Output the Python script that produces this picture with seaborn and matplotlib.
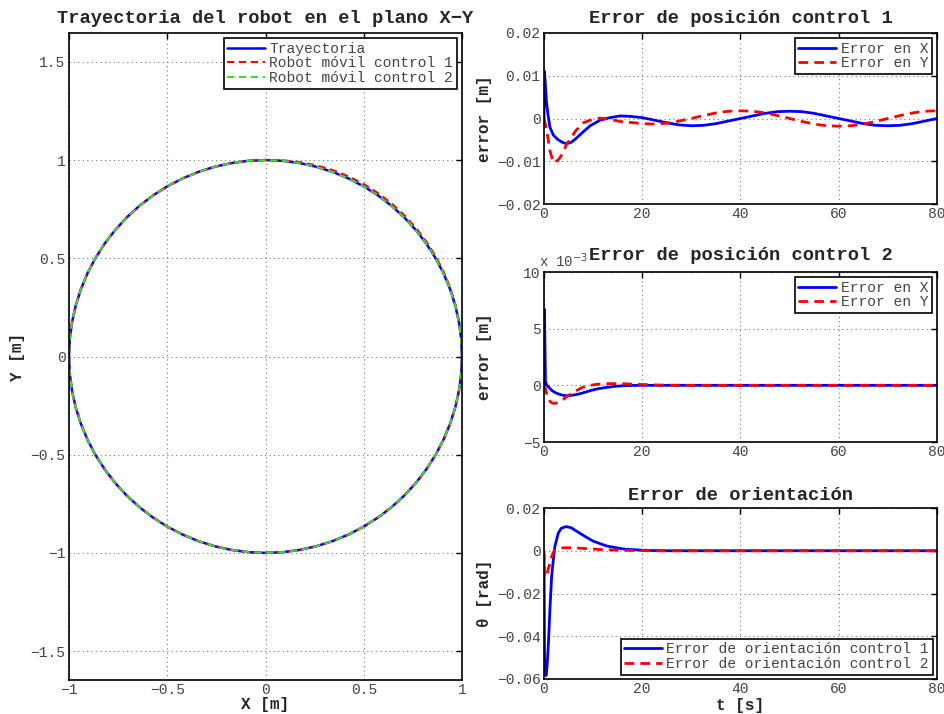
import numpy as np
import pandas as pd
import matplotlib
matplotlib.use("Agg")
import matplotlib.pyplot as plt
from matplotlib.ticker import FuncFormatter
import seaborn as sns

# ---------------- data ----------------
# X-Y plane: sampled angles (deg) and radii of each trajectory
theta_deg = list(range(0, 361, 5))
r_ref = [1.0] * 73
r_ctrl1 = [1.0] * 3 + [1.002, 1.003, 1.004, 1.005, 1.006, 1.007, 1.008, 1.009,
                       1.010, 1.010, 1.010, 1.009, 1.007, 1.005, 1.003, 1.001] + [1.0] * 54
r_ctrl2 = [1.0] * 73

# position error, control 1 [m]
t_pos1 = [0, 0.1, 0.25, 0.5, 0.8, 1.2, 1.9, 2.9, 3.8, 4.6,
          5.5, 6.5, 8, 9.4, 11.4, 13.4, 15.5, 17.5,
          20, 22.5, 25, 27.5, 30, 32.5, 35, 37.5, 40, 42.5, 45, 47.5, 50,
          52.5, 55, 57.5, 60, 62.5, 65, 67.5, 70, 72.5, 75, 77.5, 80]
ex1 = [0, 0.011, 0.0085, 0.004, 0.001, -0.002, -0.0039, -0.005, -0.0056, -0.0059,
       -0.0056, -0.0047, -0.0031, -0.0017, -0.0004, 0.0002, 0.0006, 0.0005,
       0.0002, -0.0004, -0.0010, -0.0015, -0.0017, -0.0016, -0.0012, -0.0006, 0.0,
       0.0006, 0.0012, 0.0016, 0.0017, 0.0016, 0.0012, 0.0006, 0.0, -0.0006,
       -0.0012, -0.0016, -0.0017, -0.0016, -0.0012, -0.0006, 0.0]
ey1 = [0, -0.0005, -0.0012, -0.0025, -0.0045, -0.0075, -0.0103, -0.0097, -0.0082, -0.0060,
       -0.0045, -0.0028, -0.0010, -0.0004, 0.0001, -0.0002, -0.0007, -0.0009,
       -0.0012, -0.0013, -0.0011, -0.0006, 0.0, 0.0007, 0.0013, 0.0017, 0.0018,
       0.0017, 0.0013, 0.0007, 0.0, -0.0007, -0.0013, -0.0017, -0.0018, -0.0017,
       -0.0013, -0.0007, 0.0, 0.0007, 0.0013, 0.0017, 0.0018]

# position error, control 2 [x 10^-3 m]
t_pos2 = [0, 0.1, 0.3, 0.6, 1.2, 1.6, 2.2, 2.6, 3.2, 3.9,
          4.6, 5.3, 6.5, 7.3, 8, 9.4, 11, 12.8, 14.5, 16.2,
          18, 19.6, 22, 25, 30, 40, 50, 60, 70, 80]
ex2_milli = [0, 6.7, 0.3, 0.0, -0.27, -0.45, -0.62, -0.7, -0.8, -0.88,
             -0.92, -0.9, -0.82, -0.74, -0.66, -0.47, -0.3, -0.18, -0.09, -0.03,
             -0.01, 0, 0, 0, 0, 0, 0, 0, 0, 0]
ey2_milli = [0, -0.1, -0.3, -0.85, -1.4, -1.55, -1.6, -1.55, -1.45, -1.25,
             -1.0, -0.8, -0.5, -0.3, -0.15, 0.0, 0.1, 0.15, 0.15, 0.14,
             0.1, 0.08, 0.04, 0.01, 0, 0, 0, 0, 0, 0]

# orientation error [rad]
t_ori = [0, 0.1, 0.4, 0.6, 0.9, 1.2, 1.55, 1.9, 2.2, 2.9,
         3.5, 4.5, 5.5, 7.3, 8.5, 10, 12.8, 16.2, 19.6, 22,
         25, 30, 40, 50, 60, 70, 80]
eo1 = [-0.002, -0.05, -0.0584, -0.055, -0.0433, -0.0277, -0.0121, -0.0043, 0.0019, 0.0082,
       0.0105, 0.0113, 0.0108, 0.0082, 0.0065, 0.0045, 0.0022, 0.0008, 0.0003, 0.0001,
       0, 0, 0, 0, 0, 0, 0]
eo2 = [0, -0.012, -0.0125, -0.011, -0.0082, -0.0060, -0.0028, -0.0008, 0.0003, 0.0010,
       0.0013, 0.0014, 0.0014, 0.0012, 0.0010, 0.0008, 0.0004, 0.0002, 0.0001, 0,
       0, 0, 0, 0, 0, 0, 0]

# ---------------- style ----------------
sns.set_style("white")
plt.rcParams["font.family"] = ["Liberation Mono", "DejaVu Sans Mono"]
plt.rcParams["axes.unicode_minus"] = True

BLUE = "#0000ff"
RED = "#ff0000"
GREEN = "#3cd83c"
TICKC = "#444444"
DASH = (3.5, 2.2)


def fmt(v, pos):
    s = "%g" % v
    if s in ("-0", "0"):
        return "0"
    return s.replace("-", "\u2212")


def style_axes(ax):
    for s in ax.spines.values():
        s.set_visible(True)
        s.set_linewidth(1.2)
        s.set_color("black")
    ax.tick_params(direction="in", length=4, width=1, top=True, right=True,
                   labelsize=10.5, labelcolor=TICKC, color="black")
    ax.tick_params(axis="x", pad=2.5)
    ax.tick_params(axis="y", pad=2.5)
    ax.grid(True, linestyle=(0, (1, 3)), color="#777777", linewidth=0.8)
    ax.xaxis.set_major_formatter(FuncFormatter(fmt))
    ax.yaxis.set_major_formatter(FuncFormatter(fmt))


def style_legend(leg):
    leg.get_frame().set_linewidth(1.2)
    for t in leg.get_texts():
        t.set_color(TICKC)


def add_legend(ax, loc="upper right"):
    leg = ax.legend(loc=loc, fontsize=10.5, frameon=True, fancybox=False,
                    edgecolor="black", framealpha=1, borderpad=0.25, labelspacing=0.05,
                    handlelength=2.6, handletextpad=0.3, borderaxespad=0.35)
    style_legend(leg)
    return leg


def draw(ax, x, y, color, label, dashed=False, lw=2.0, sort=True):
    sns.lineplot(x=x, y=y, ax=ax, color=color, label=label, linewidth=lw,
                 sort=sort, estimator=None, errorbar=None)
    line = ax.lines[-1]
    if dashed:
        line.set_linestyle("--")
        line.set_dashes(DASH)
    return line


W, H = 945, 714
fig = plt.figure(figsize=(W / 100, H / 100), dpi=100)

def rect(left, top, right, bottom):
    return [left / W, 1 - bottom / H, (right - left) / W, (bottom - top) / H]

ax_xy = fig.add_axes(rect(69, 33, 462, 680))
ax_p1 = fig.add_axes(rect(544, 33, 937, 204))
ax_p2 = fig.add_axes(rect(544, 272, 937, 442))
ax_o = fig.add_axes(rect(544, 508, 937, 679))

# ---------------- X-Y plane ----------------
th = np.deg2rad(np.array(theta_deg, dtype=float))
for r, col, lab, dashed, lw in [(r_ref, BLUE, "Trayectoria", False, 1.8),
                                (r_ctrl1, RED, "Robot móvil control 1", True, 1.5),
                                (r_ctrl2, GREEN, "Robot móvil control 2", True, 1.5)]:
    r = np.array(r)
    draw(ax_xy, r * np.cos(th), r * np.sin(th), col, lab, dashed=dashed, lw=lw, sort=False)

ax_xy.set_xlim(-1, 1)
ax_xy.set_ylim(-1.647, 1.647)
ax_xy.set_xticks([-1, -0.5, 0, 0.5, 1])
ax_xy.set_yticks([-1.5, -1, -0.5, 0, 0.5, 1, 1.5])
style_axes(ax_xy)
ax_xy.set_title("Trayectoria del robot en el plano X\u2212Y", fontsize=13.5,
                fontweight="bold", pad=7)
ax_xy.set_xlabel("X [m]", fontsize=11.5, fontweight="bold")
ax_xy.set_ylabel("Y [m]", fontsize=11.5, fontweight="bold")
ax_xy.xaxis.set_label_coords(0.5, -0.027)
ax_xy.yaxis.set_label_coords(-0.112, 0.5)
add_legend(ax_xy)

# ---------------- position error control 1 ----------------
draw(ax_p1, t_pos1, ex1, BLUE, "Error en X")
draw(ax_p1, t_pos1, ey1, RED, "Error en Y", dashed=True)
ax_p1.set_xlim(0, 80)
ax_p1.set_ylim(-0.02, 0.02)
ax_p1.set_xticks([0, 20, 40, 60, 80])
ax_p1.set_yticks([-0.02, -0.01, 0, 0.01, 0.02])
style_axes(ax_p1)
ax_p1.set_title("Error de posición control 1", fontsize=13.5, fontweight="bold", pad=7)
ax_p1.set_xlabel("")
ax_p1.set_ylabel("error [m]", fontsize=11.5, fontweight="bold")
ax_p1.yaxis.set_label_coords(-0.132, 0.5)
add_legend(ax_p1)

# ---------------- position error control 2 ----------------
draw(ax_p2, t_pos2, ex2_milli, BLUE, "Error en X")
draw(ax_p2, t_pos2, ey2_milli, RED, "Error en Y", dashed=True)
ax_p2.set_xlim(0, 80)
ax_p2.set_ylim(-5, 10)
ax_p2.set_xticks([0, 20, 40, 60, 80])
ax_p2.set_yticks([-5, 0, 5, 10])
style_axes(ax_p2)
ax_p2.set_title("Error de posición control 2", fontsize=13.5, fontweight="bold", pad=9)
ax_p2.set_xlabel("")
ax_p2.set_ylabel("error [m]", fontsize=11.5, fontweight="bold")
ax_p2.yaxis.set_label_coords(-0.132, 0.5)
ax_p2.text(-0.012, 1.012, "x 10$^{-3}$", transform=ax_p2.transAxes, fontsize=10,
           color=TICKC, ha="left", va="bottom")
add_legend(ax_p2)

# ---------------- orientation error ----------------
draw(ax_o, t_ori, eo1, BLUE, "Error de orientación control 1")
draw(ax_o, t_ori, eo2, RED, "Error de orientación control 2", dashed=True)
ax_o.set_xlim(0, 80)
ax_o.set_ylim(-0.06, 0.02)
ax_o.set_xticks([0, 20, 40, 60, 80])
ax_o.set_yticks([-0.06, -0.04, -0.02, 0, 0.02])
style_axes(ax_o)
ax_o.set_title("Error de orientación", fontsize=13.5, fontweight="bold", pad=6)
ax_o.set_xlabel("t [s]", fontsize=11.5, fontweight="bold")
ax_o.set_ylabel("\u03b8 [rad]", fontsize=11.5, fontweight="bold")
ax_o.xaxis.set_label_coords(0.5, -0.11)
ax_o.yaxis.set_label_coords(-0.132, 0.5)
leg = ax_o.legend(loc="lower right", fontsize=10.5, frameon=True, fancybox=False,
                  edgecolor="black", framealpha=1, borderpad=0.25, labelspacing=0.05,
                  handlelength=2.6, handletextpad=0.3, borderaxespad=0.3)
style_legend(leg)

fig.savefig("out.png", dpi=100)
